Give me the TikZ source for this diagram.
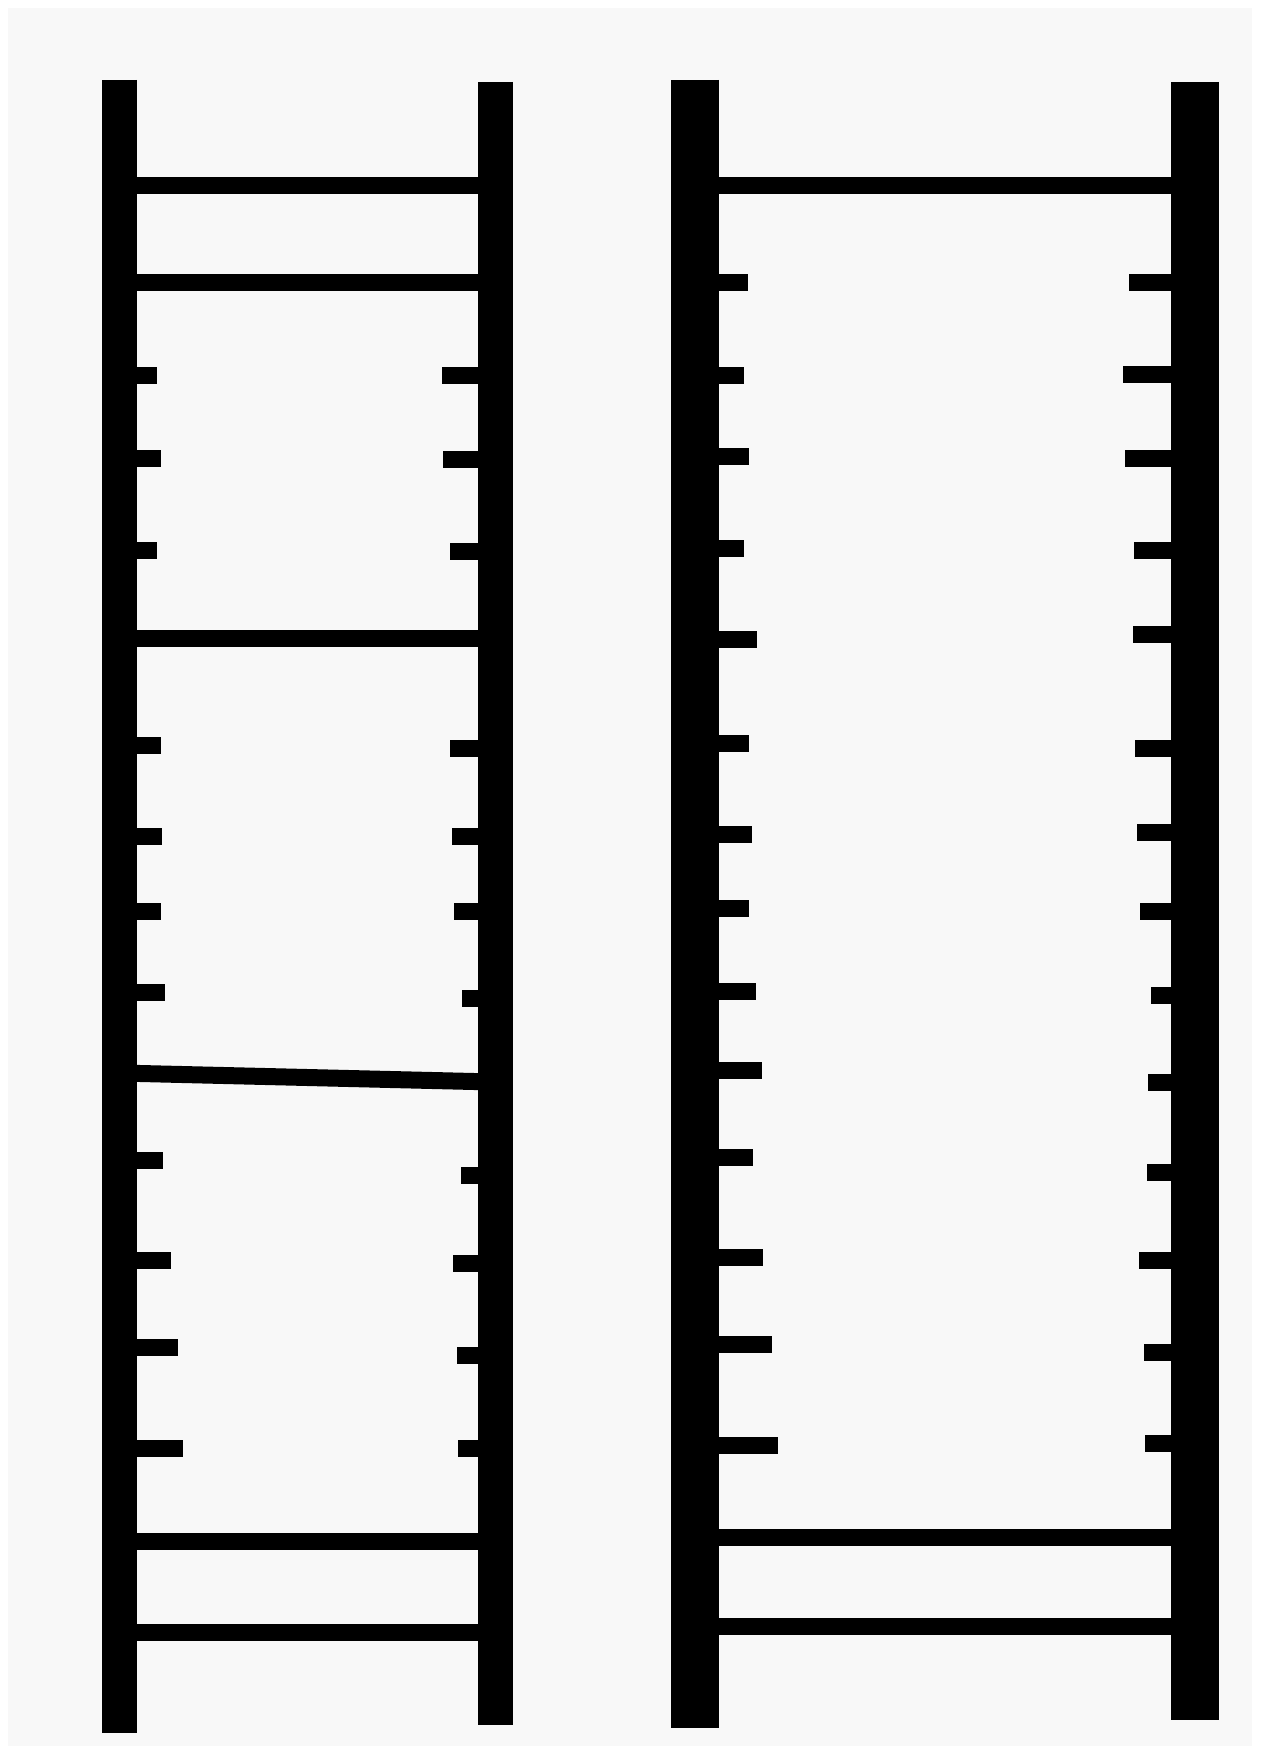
\documentclass[tikz,border=0pt]{standalone}
\usepackage{tikz}
\definecolor{paper}{RGB}{248,248,248}
\tikzstyle{rail}=[line width=3.5mm]
\tikzstyle{wrail}=[line width=4.8mm]
\tikzstyle{rung}=[line width=1.7mm]
\begin{document}
\begin{tikzpicture}[x=0.1mm,y=-0.1mm]
\useasboundingbox (0,0) rectangle (1260,1746);
\fill[white] (0,0) rectangle (1260,1746);
\fill[paper] (8,8) rectangle (1252,1746);

% left ladder: rails
\draw[rail] (119.5,80) -- (119.5,1733);
\draw[rail] (495,82) -- (495,1725);
% left ladder: full rungs
\foreach \a/\b in {186/186, 283/283, 639/639, 1073/1082, 1541/1541, 1632/1632}
  \draw[rung] (119.5,\a) -- (495,\b);
% left ladder: broken rungs
\foreach \y/\e in {376/157, 459/161, 551/157, 745/161, 836/162, 911/161,
                   992/165, 1160/163, 1260/171, 1347/178, 1448/183}
  \draw[rung] (119.5,\y) -- (\e,\y);
\foreach \y/\e in {376/442, 460/443, 552/450, 748/450, 836/452, 911/454,
                   998/462, 1175/461, 1263/453, 1355/457, 1448/458}
  \draw[rung] (\e,\y) -- (495,\y);

% right ladder: rails
\draw[wrail] (694.5,80) -- (694.5,1728);
\draw[wrail] (1195,82) -- (1195,1720);
% right ladder: full rungs
\foreach \y in {186, 1537, 1626}
  \draw[rung] (694.5,\y) -- (1195,\y);
% right ladder: broken rungs
\foreach \y/\e in {283/748, 376/744, 457/749, 549/744, 640/757, 743/749, 834/752,
                   908/749, 991/756, 1070/762, 1157/753, 1257/763, 1344/772, 1445/778}
  \draw[rung] (694.5,\y) -- (\e,\y);
\foreach \y/\e in {283/1129, 375/1123, 459/1125, 551/1134, 635/1133, 748/1135, 832/1137,
                   911/1140, 995/1151, 1082/1148, 1172/1147, 1260/1139, 1352/1144, 1443/1145}
  \draw[rung] (\e,\y) -- (1195,\y);
\end{tikzpicture}
\end{document}
